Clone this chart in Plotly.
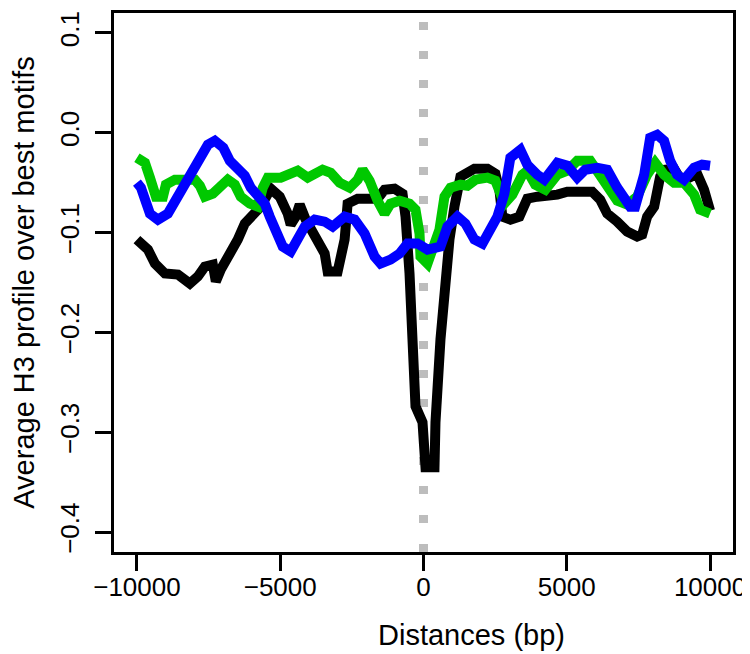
import plotly.graph_objects as go

# distance from motif centre (bp) and average H3 profile
black_x = [-10000, -9616, -9372, -9024, -8570, -8153, -7874, -7630, -7351, -7247,
           -7073, -6724, -6480, -6236, -5958, -5679, -5330, -5017, -4738, -4634,
           -4460, -4320, -4111, -3798, -3449, -3345, -2996, -2752, -2648, -2299,
           -1951, -1603, -1359, -1010, -732, -627, -488, -383, -279, -35,
           70, 383, 418, 592, 732, 906, 1080, 1289, 1777, 2230,
           2508, 2648, 2752, 3031, 3345, 3623, 3972, 4320, 4669, 5017,
           5365, 5888, 6167, 6411, 6759, 7107, 7456, 7630, 7804, 8048,
           8257, 8431, 8745, 8954, 9198, 9546, 9790, 10000]
black_y = [-0.107, -0.117, -0.131, -0.141, -0.142, -0.151, -0.144, -0.134, -0.132, -0.149,
           -0.137, -0.121, -0.107, -0.091, -0.081, -0.074, -0.056, -0.064, -0.081, -0.092,
           -0.084, -0.072, -0.087, -0.101, -0.121, -0.139, -0.139, -0.107, -0.071, -0.066,
           -0.066, -0.066, -0.057, -0.056, -0.061, -0.084, -0.141, -0.207, -0.274, -0.290,
           -0.335, -0.335, -0.290, -0.207, -0.147, -0.107, -0.074, -0.044, -0.036, -0.036,
           -0.041, -0.057, -0.084, -0.087, -0.084, -0.066, -0.064, -0.064, -0.062, -0.059,
           -0.059, -0.059, -0.067, -0.081, -0.089, -0.099, -0.104, -0.102, -0.084, -0.074,
           -0.044, -0.037, -0.036, -0.046, -0.046, -0.041, -0.057, -0.078]

green_x = [-10000, -9720, -9546, -9337, -9093, -8989, -8675, -8327, -7978, -7804,
           -7630, -7351, -7073, -6829, -6585, -6376, -6062, -5783, -5609, -5435,
           -4982, -4634, -4390, -4041, -3798, -3519, -3240, -2927, -2578, -2299,
           -2125, -1881, -1603, -1359, -1150, -836, -488, -279, -139, -105,
           139, 314, 557, 732, 941, 1289, 1533, 1812, 2230, 2508,
           2822, 3100, 3450, 3623, 3900, 4250, 4669, 5017, 5365, 5818,
           6062, 6411, 6759, 7107, 7456, 7804, 8083, 8396, 8745, 9093,
           9442, 9651, 10000]
green_y = [-0.025, -0.030, -0.045, -0.064, -0.064, -0.052, -0.047, -0.048, -0.047, -0.053,
           -0.064, -0.061, -0.052, -0.047, -0.052, -0.064, -0.071, -0.074, -0.055, -0.045,
           -0.045, -0.042, -0.038, -0.045, -0.040, -0.037, -0.040, -0.050, -0.055, -0.047,
           -0.037, -0.048, -0.068, -0.081, -0.071, -0.068, -0.071, -0.077, -0.101, -0.124,
           -0.131, -0.117, -0.097, -0.064, -0.055, -0.052, -0.053, -0.047, -0.045, -0.048,
           -0.071, -0.062, -0.042, -0.038, -0.052, -0.057, -0.042, -0.038, -0.028, -0.028,
           -0.038, -0.055, -0.068, -0.072, -0.064, -0.042, -0.030, -0.042, -0.050, -0.050,
           -0.062, -0.077, -0.081]

blue_x = [-10000, -9860, -9546, -9267, -8919, -8570, -8327, -8048, -7769, -7525,
          -7282, -6986, -6759, -6480, -6236, -6027, -5783, -5539, -5365, -5156,
          -4912, -4634, -4390, -4146, -3798, -3449, -3170, -2752, -2404, -2056,
          -1707, -1498, -1150, -836, -557, -209, 139, 592, 836, 1185,
          1463, 1777, 2056, 2299, 2578, 2822, 3031, 3379, 3623, 3972,
          4216, 4669, 5017, 5365, 5644, 6062, 6411, 6759, 7003, 7212,
          7386, 7700, 7909, 8153, 8396, 8605, 8849, 9093, 9442, 9720,
          10000]
blue_y = [-0.050, -0.055, -0.081, -0.087, -0.081, -0.064, -0.052, -0.035, -0.025, -0.012,
          -0.008, -0.015, -0.028, -0.037, -0.043, -0.055, -0.062, -0.071, -0.084, -0.101,
          -0.114, -0.119, -0.104, -0.094, -0.087, -0.089, -0.094, -0.084, -0.087, -0.101,
          -0.124, -0.131, -0.127, -0.121, -0.111, -0.111, -0.117, -0.114, -0.094, -0.084,
          -0.091, -0.107, -0.111, -0.097, -0.084, -0.061, -0.025, -0.017, -0.032, -0.042,
          -0.047, -0.030, -0.033, -0.045, -0.037, -0.035, -0.037, -0.055, -0.068, -0.074,
          -0.074, -0.042, -0.005, -0.002, -0.008, -0.028, -0.042, -0.047, -0.035, -0.032,
          -0.033]

x_ticks = [-10000, -5000, 0, 5000, 10000]
x_labels = ["\u221210000", "\u22125000", "0", "5000", "10000"]
y_ticks = [-0.4, -0.3, -0.2, -0.1, 0.0, 0.1]
y_labels = ["\u22120.4", "\u22120.3", "\u22120.2", "\u22120.1", "0.0", "0.1"]

font = "Liberation Sans, Arial, sans-serif"

fig = go.Figure()
for xs, ys, col in [(black_x, black_y, "#000000"),
                    (green_x, green_y, "#00c800"),
                    (blue_x, blue_y, "#0000ff")]:
    fig.add_trace(go.Scatter(x=xs, y=ys, mode="lines",
                             line=dict(color=col, width=10), showlegend=False))

fig.add_vline(x=0, line=dict(color="#bdbdbd", width=9, dash="8px,21px"), layer="below")

# x title sits right of centre in the original
fig.add_annotation(text="Distances (bp)", xref="paper", yref="paper",
                   x=0.577, y=-0.154, xanchor="center", yanchor="middle",
                   showarrow=False, font=dict(size=29))

fig.update_layout(
    width=750, height=654,
    margin=dict(l=106, r=25, t=5, b=110),
    plot_bgcolor="white", paper_bgcolor="white",
    font=dict(family=font, size=26, color="black"),
)
fig.update_xaxes(
    range=[-10800, 10800], tickvals=x_ticks, ticktext=x_labels,
    showgrid=False, zeroline=False, showline=True, mirror=True,
    linecolor="black", linewidth=3, ticks="outside", ticklen=16, tickwidth=3,
    tickcolor="black", ticklabelstandoff=-6, automargin=False,
)
fig.update_yaxes(
    range=[-0.42, 0.12], tickvals=y_ticks, ticktext=y_labels, tickangle=-90,
    showgrid=False, zeroline=False, showline=True, mirror=True,
    linecolor="black", linewidth=3, ticks="outside", ticklen=16, tickwidth=3,
    tickcolor="black", ticklabelstandoff=6, automargin=False,
    title=dict(text="Average H3 profile over best motifs", standoff=34, font=dict(size=29)),
)

fig.write_html("out.html")
